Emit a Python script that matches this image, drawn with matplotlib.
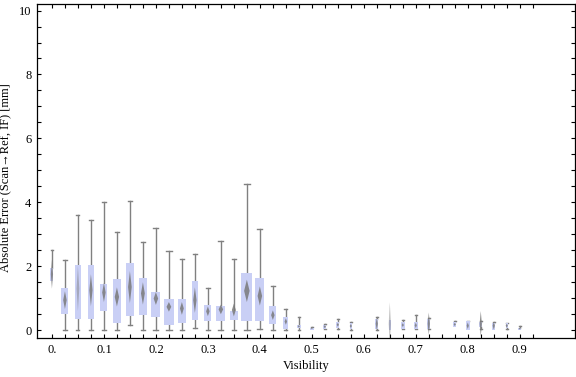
import numpy as np
import matplotlib
matplotlib.use("Agg")
import matplotlib.pyplot as plt
from matplotlib.patches import Polygon, Rectangle

plt.rcParams['font.family'] = ['Liberation Serif', 'DejaVu Serif']
plt.rcParams['font.size'] = 9

# visibility bins (NaN = no data in that bin)
vis = np.arange(0, 0.901, 0.025)
whis_lo = [1.53, 0.00, 0.02, 0.02, 0.00, 0.02, 0.16, 0.02, 0.02, 0.00,
           0.00, 0.08, 0.00, 0.00, 0.00, 0.00, 0.03, 0.00, 0.00, 0.00,
           0.00, 0.03, 0.03, 0.02, np.nan, 0.02, 0.00, 0.03, 0.03, 0.04,
           np.nan, 0.10, 0.00, 0.04, 0.02, 0.05, 0.00]
q1 = [1.53, 0.51, 0.35, 0.35, 0.61, 0.21, 0.45, 0.48, 0.42, 0.17,
      0.23, 0.31, 0.29, 0.28, 0.31, 0.28, 0.28, 0.20, 0.04, 0.07,
      0.00, 0.05, 0.07, 0.03, np.nan, 0.03, 0.00, 0.05, 0.04, 0.05,
      np.nan, 0.10, 0.00, 0.09, 0.02, 0.07, 0.00]
q3 = [1.95, 1.31, 2.05, 2.05, 1.43, 1.59, 2.11, 1.63, 1.19, 0.97,
      0.99, 1.53, 0.78, 0.76, 0.59, 1.78, 1.63, 0.75, 0.41, 0.16,
      0.08, 0.17, 0.26, 0.23, np.nan, 0.34, 0.33, 0.26, 0.26, 0.36,
      np.nan, 0.25, 0.28, 0.26, 0.23, 0.21, 0.08]
whis_hi = [2.50, 2.19, 3.61, 3.46, 4.01, 3.08, 4.04, 2.77, 3.21, 2.47,
           2.22, 2.39, 1.33, 2.78, 2.24, 4.58, 3.18, 1.37, 0.67, 0.40,
           0.10, 0.19, 0.36, 0.26, np.nan, 0.42, 0.33, 0.33, 0.47, 0.39,
           np.nan, 0.28, 0.30, 0.30, 0.26, 0.24, 0.13]
mean = [1.75, 0.94, 1.30, 1.25, 1.18, 1.04, 1.35, 1.15, 0.99, 0.73,
        0.68, 0.94, 0.59, 0.65, 0.63, 1.23, 1.07, 0.47, 0.27, 0.12,
        0.05, 0.11, 0.17, 0.13, np.nan, 0.20, 0.20, 0.16, 0.15, 0.20,
        np.nan, 0.18, 0.14, 0.20, 0.14, 0.14, 0.05]
mean_ci = [0.45, 0.28, 0.70, 0.50, 0.30, 0.30, 0.50, 0.35, 0.20, 0.15,
           0.20, 0.40, 0.15, 0.15, 0.20, 0.35, 0.30, 0.15, 0.10, 0.04,
           0.02, 0.05, 0.06, 0.06, np.nan, 0.20, 0.67, 0.06, 0.08, 0.35,
           np.nan, 0.05, 0.10, 0.40, 0.12, 0.06, 0.03]
# relative box width (grows with the number of samples in the bin)
rel_width = [3, 7, 5.5, 6.5, 7, 8.7, 7.3, 7.7, 9, 9.5,
             7.7, 6.7, 7, 9, 8, 11, 9, 7, 5, 4,
             4.3, 3.3, 3.3, 2.5, np.nan, 2.7, 2.5, 3.7, 3.5, 3,
             np.nan, 2.7, 3.7, 2.7, 2.7, 2.4, 3]

fig = plt.figure(figsize=(5.76, 3.77), dpi=100)
ax = fig.add_axes([0.064, 0.103, 0.934, 0.886])

px = 1.0 / 520  # one pixel in x data units
for i, x in enumerate(vis):
    if np.isnan(q1[i]):
        continue
    bw = rel_width[i] * px
    cap = max(0.55 * bw, 2.5 * px) / 2
    dw = max(0.5 * bw, 2.2 * px) / 2
    # whiskers
    ax.plot([x, x], [whis_lo[i], q1[i]], color='#808080', lw=1.0, zorder=1)
    ax.plot([x, x], [q3[i], whis_hi[i]], color='#808080', lw=1.0, zorder=1)
    if whis_hi[i] > q3[i]:
        ax.plot([x - cap, x + cap], [whis_hi[i]] * 2, color='#808080', lw=1.0)
    if whis_lo[i] < q1[i]:
        ax.plot([x - cap, x + cap], [whis_lo[i]] * 2, color='#808080', lw=1.0)
    ax.add_patch(Rectangle((x - bw / 2, q1[i]), bw, q3[i] - q1[i],
                           facecolor='#c9cff5', edgecolor='none', zorder=2))
    m, c = mean[i], mean_ci[i]
    alpha = 0.85 if c < 0.6 else 0.45
    ax.add_patch(Polygon([(x, m + c), (x + dw, m), (x, m - c), (x - dw, m)],
                         closed=True, facecolor='#7a7a7a', edgecolor='none',
                         alpha=alpha, zorder=3))

ax.set_xlim(-0.029, 1.006)
ax.set_ylim(-0.25, 10.2)

ax.set_xticks(np.arange(0, 0.901, 0.1))
ax.set_xticklabels(['0.'] + ['%.1f' % v for v in np.arange(0.1, 0.901, 0.1)])
ax.set_xticks(np.arange(0, 0.926, 0.025), minor=True)
ax.set_yticks(np.arange(0, 10.1, 2))
ax.set_yticks(np.arange(0, 10.1, 0.5), minor=True)
ax.tick_params(which='both', direction='in', top=True, right=True,
               length=3, width=0.8, pad=4)

for s in ax.spines.values():
    s.set_linewidth(0.9)

ax.set_xlabel('Visibility', labelpad=3)
ax.set_ylabel('Absolute Error (Scan\u2192Ref, IF) [mm]')
ax.yaxis.set_label_coords(-0.047, 0.48)

fig.savefig('out.png', dpi=100)
